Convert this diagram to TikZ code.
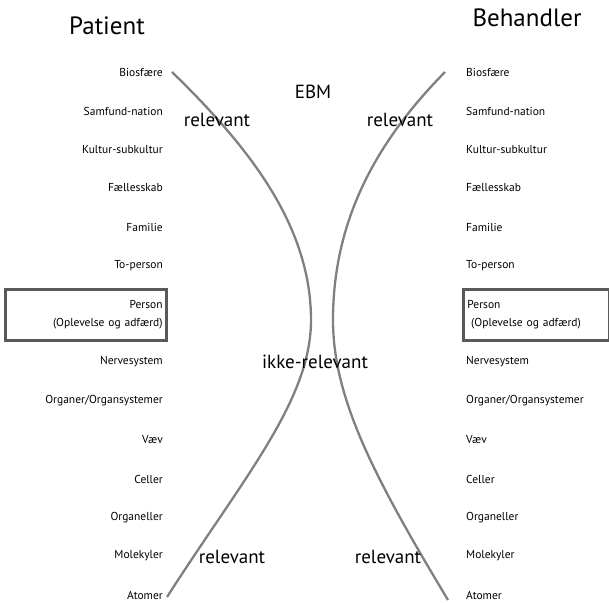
\documentclass[tikz,border=0pt]{standalone}
\usepackage{fontspec}
\setmainfont{PT Sans}
\usepackage{tikz}
\tikzset{
  item_font/.style = {font=\fontsize{11.5}{18}\selectfont},
  big_font/.style = {font=\fontsize{19}{22}\selectfont},
  head_font/.style = {font=\fontsize{25}{28}\selectfont},
  curve_color/.style = {draw=black!50},
  box_color/.style = {draw=black!65}
}
\tikzset{
  left_item/.style = {item_font, anchor=east, inner sep=0},
  right_item/.style = {item_font, anchor=west, inner sep=0},
  label/.style = {big_font, inner sep=0},
  head/.style = {head_font, inner sep=0},
  level_box/.style = {item_font, box_color, line width=2.8pt, minimum height=51, inner xsep=4, inner ysep=0},
  boundary/.style = {curve_color, line width=2.3pt}
}
\begin{document}
\begin{tikzpicture}[x=1pt, y=-1pt]
        \useasboundingbox (0,0) rectangle (609,602);

        % Actors
        \node[head] at (107,26) (patient) {Patient};
        \node[head] at (527,18) (behandler) {Behandler};

        % Patient levels
        \node[left_item] at (163,72) (p_bio) {Biosfære};
        \node[left_item] at (163,111) (p_sam) {Samfund-nation};
        \node[left_item] at (163,150) (p_kul) {Kultur-subkultur};
        \node[left_item] at (163,188) (p_fael) {Fællesskab};
        \node[left_item] at (163,227) (p_fam) {Familie};
        \node[left_item] at (163,266) (p_to) {To-person};
        \node[level_box, anchor=east, text width=153, align=right] at (168,315) (p_person) {
            Person\\(Oplevelse og adfærd)
            };
        \node[left_item] at (163,362) (p_nerv) {Nervesystem};
        \node[left_item] at (163,401) (p_org) {Organer/Organsystemer};
        \node[left_item] at (163,440) (p_vaev) {Væv};
        \node[left_item] at (163,479) (p_cel) {Celler};
        \node[left_item] at (163,518) (p_orgl) {Organeller};
        \node[left_item] at (163,556) (p_mol) {Molekyler};
        \node[left_item] at (163,595) (p_atom) {Atomer};

        % Behandler levels
        \node[right_item] at (466,72) (b_bio) {Biosfære};
        \node[right_item] at (466,111) (b_sam) {Samfund-nation};
        \node[right_item] at (466,150) (b_kul) {Kultur-subkultur};
        \node[right_item] at (466,188) (b_fael) {Fællesskab};
        \node[right_item] at (466,227) (b_fam) {Familie};
        \node[right_item] at (466,266) (b_to) {To-person};
        \node[level_box, anchor=west, text width=138, align=left] at (462,315) (b_person) {
            Person\\\ (Oplevelse og adfærd)
            };
        \node[right_item] at (466,362) (b_nerv) {Nervesystem};
        \node[right_item] at (466,401) (b_org) {Organer/Organsystemer};
        \node[right_item] at (466,440) (b_vaev) {Væv};
        \node[right_item] at (466,479) (b_cel) {Celler};
        \node[right_item] at (466,518) (b_orgl) {Organeller};
        \node[right_item] at (466,556) (b_mol) {Molekyler};
        \node[right_item] at (466,595) (b_atom) {Atomer};

        % Curve ends
        \coordinate (l_top) at (172,72);
        \coordinate (l_mid) at (311,320);
        \coordinate (l_bot) at (167,597);
        \coordinate (r_top) at (445,72);
        \coordinate (r_mid) at (333,320);
        \coordinate (r_bot) at (448,600);

        % Boundaries
        \draw[boundary] (l_top) .. controls (248,146) and (311,225) .. (l_mid)
            .. controls (311,400) and (244,477) .. (l_bot);
        \draw[boundary] (r_top) .. controls (372,146) and (333,225) .. (r_mid)
            .. controls (333,400) and (376,480) .. (r_bot);

        % Zones
        \node[label] at (313,92) (ebm) {EBM};
        \node[label] at (217,120) (rel_lt) {relevant};
        \node[label] at (400,120) (rel_rt) {relevant};
        \node[label] at (315,362) (ikke) {ikke-relevant};
        \node[label] at (232,557) (rel_lb) {relevant};
        \node[label] at (388,557) (rel_rb) {relevant};
\end{tikzpicture}
\end{document}
